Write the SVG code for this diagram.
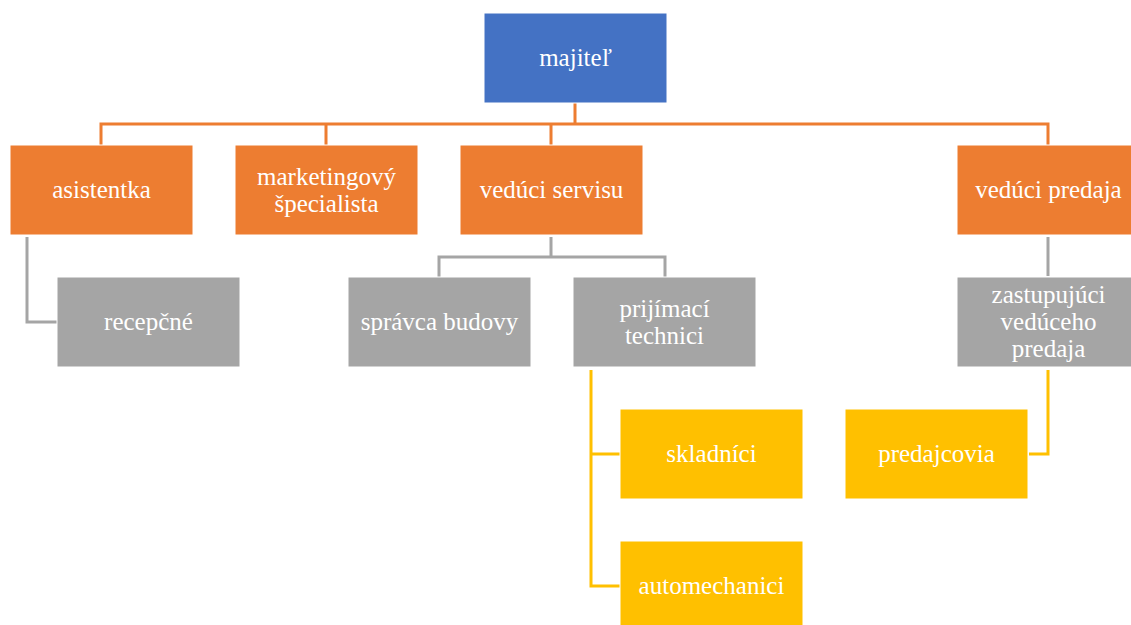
<svg xmlns="http://www.w3.org/2000/svg" width="1131" height="625" viewBox="0 0 1131 625">
<style>
rect{stroke:#fff;stroke-width:1}
.b{fill:#4472C4}.o{fill:#ED7D31}.g{fill:#A5A5A5}.y{fill:#FFC000}
text{font-family:'Liberation Serif','DejaVu Serif',serif;font-size:25px;fill:#fff;text-anchor:middle}
.c path{fill:none;stroke-width:3}
.co{stroke:#ED7D31}.cg{stroke:#A5A5A5}.cy{stroke:#FFC000}
</style>
<rect width="1131" height="625" fill="#fff" style="stroke:none"/>
<g class="c" id="connectors">
<path class="co" d="M575 103V124M101 145V124H1048V145M326 124V145M551 124V145"/>
<path class="cg" d="M27 237V322H57"/>
<path class="cg" d="M551 237V257M439 277V257H665V277"/>
<path class="cg" d="M1048 237V276"/>
<path class="cy" d="M591 370V586H620M591 454H620"/>
<path class="cy" d="M1048 370V454H1029"/>
</g>
<g id="majitel"><rect class="b" x="484" y="13" width="183" height="90"/><text x="575.5" y="66">majiteľ</text></g>
<g id="asistentka"><rect class="o" x="10" y="145" width="183" height="90"/><text x="101.5" y="198">asistentka</text></g>
<g id="marketingovy"><rect class="o" x="235" y="145" width="183" height="90"/><text x="326.5" y="185">marketingový</text><text x="326.5" y="212">špecialista</text></g>
<g id="veduci-servisu"><rect class="o" x="460" y="145" width="183" height="90"/><text x="551.5" y="198">vedúci servisu</text></g>
<g id="veduci-predaja"><rect class="o" x="957" y="145" width="183" height="90"/><text x="1048.5" y="198">vedúci predaja</text></g>
<g id="recepcne"><rect class="g" x="57" y="277" width="183" height="90"/><text x="148.5" y="330">recepčné</text></g>
<g id="spravca-budovy"><rect class="g" x="348" y="277" width="183" height="90"/><text x="439.5" y="330">správca budovy</text></g>
<g id="prijimaci-technici"><rect class="g" x="573" y="277" width="183" height="90"/><text x="664.5" y="317">prijímací</text><text x="664.5" y="344">technici</text></g>
<g id="zastupujuci"><rect class="g" x="957" y="277" width="183" height="90"/><text x="1048.5" y="303">zastupujúci</text><text x="1048.5" y="330">vedúceho</text><text x="1048.5" y="357">predaja</text></g>
<g id="skladnici"><rect class="y" x="620" y="409" width="183" height="90"/><text x="711.5" y="462">skladníci</text></g>
<g id="automechanici"><rect class="y" x="620" y="541" width="183" height="90"/><text x="711.5" y="594">automechanici</text></g>
<g id="predajcovia"><rect class="y" x="845" y="409" width="183" height="90"/><text x="936.5" y="462">predajcovia</text></g>
</svg>
